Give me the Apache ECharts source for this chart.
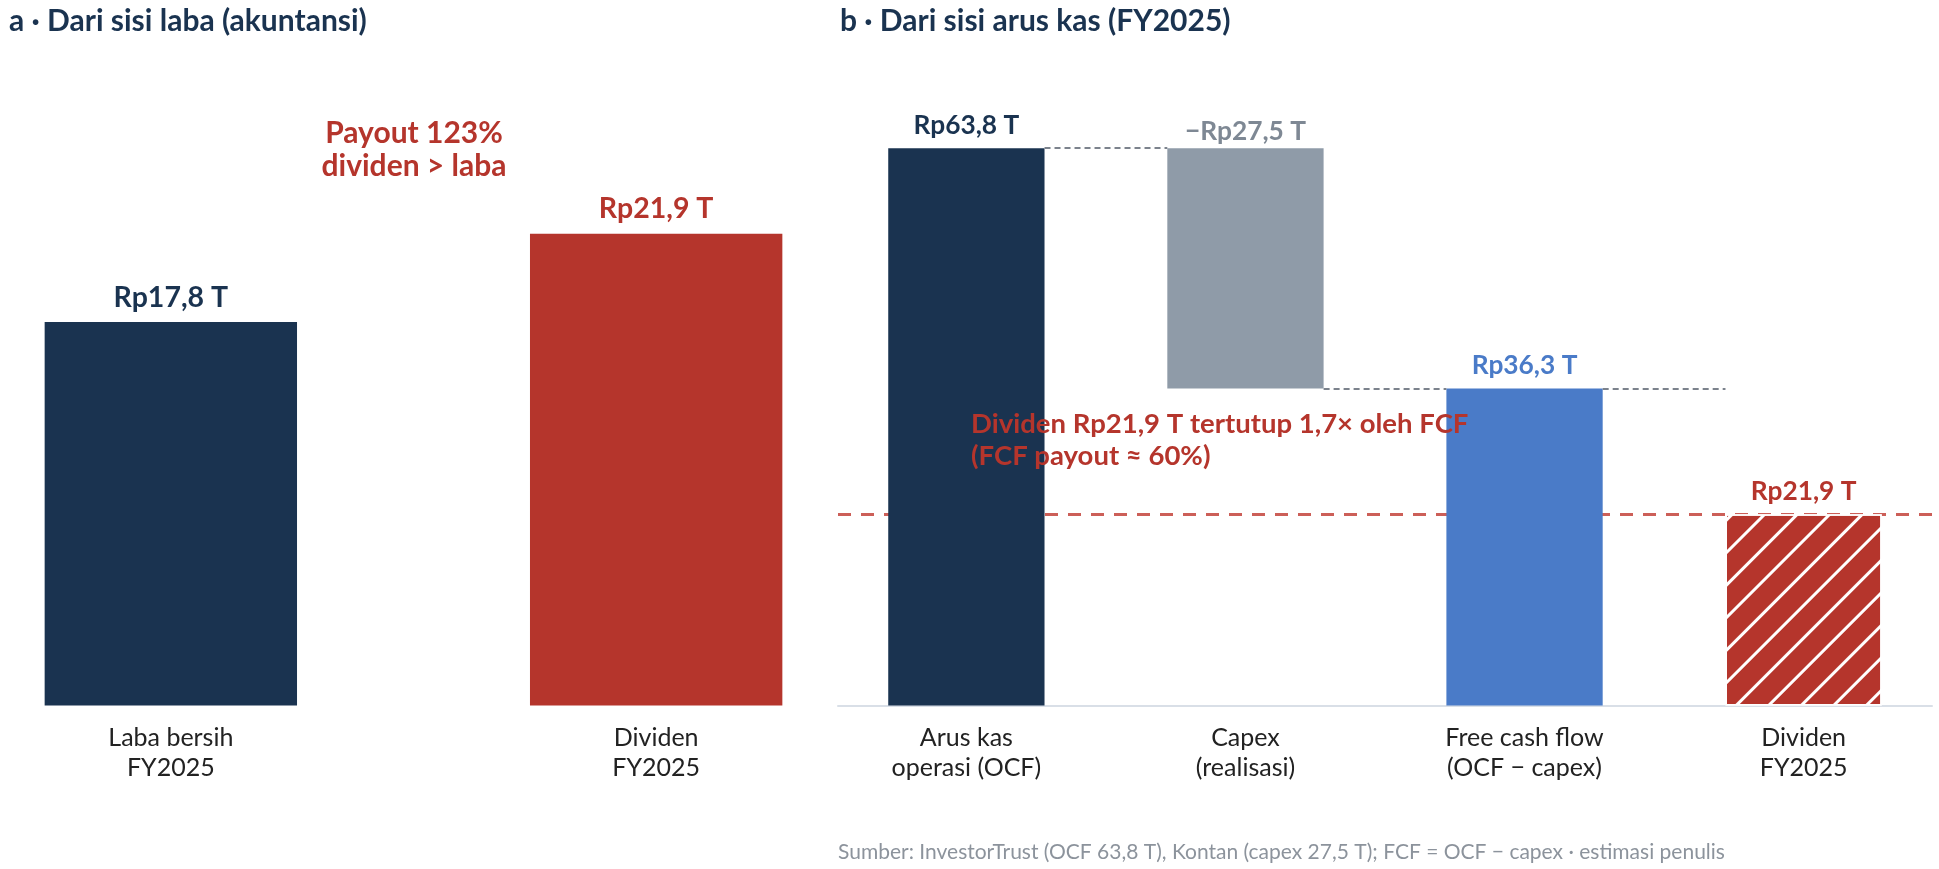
<!DOCTYPE html>
<html>
<head>
<meta charset="utf-8">
<script src="https://cdn.jsdelivr.net/npm/echarts@6/dist/echarts.min.js"></script>
<style>
  html, body { margin: 0; padding: 0; background: #fff; }
  #main { width: 1939px; height: 869px; }
</style>
</head>
<body>
<div id="main"></div>
<script>
// panel a: laba vs dividen
var kategoriA = ['Laba bersih\nFY2025', 'Dividen\nFY2025'];
var nilaiA = [17.8, 21.9];

// panel b: arus kas (OCF -> capex -> FCF -> dividen)
var kategoriB = ['Arus kas\noperasi (OCF)', 'Capex\n(realisasi)', 'Free cash flow\n(OCF − capex)', 'Dividen\nFY2025'];
var nilaiB = [63.8, 27.5, 36.3, 21.9];

var NAVY = '#1a3350', MERAH = '#b5352c', ABU = '#8f9ba8', BIRU = '#4a7bc8';
var FONT = 'Lato';

function rp(v) {
    return 'Rp' + v.toFixed(1).replace('.', ',') + ' T';
}

// ukuran grid (px) dan rentang sumbu x
var gridA = { left: 0, width: 827, top: 167, bottom: 163.5 };
var xA = { min: -0.352, max: 1.352 };
var gridB = { left: 838, width: 1094, top: 94, bottom: 163.5 };
var xB = { min: -0.46, max: 3.46 };
var LEBAR_A = 0.52, LEBAR_B = 0.56;
var barPxA = LEBAR_A * gridA.width / (xA.max - xA.min);
var barPxB = LEBAR_B * gridB.width / (xB.max - xB.min);
var hw = LEBAR_B / 2;

var ocf = nilaiB[0], capex = nilaiB[1], fcf = nilaiB[2], dividen = nilaiB[3];

var labelStyle = function (color, size) {
    return { show: true, position: 'top', color: color, fontFamily: FONT, fontWeight: 'bold', fontSize: size, distance: 10 };
};

var kategoriLabel = { color: '#222', fontSize: 25, lineHeight: 30, margin: 17.5, fontFamily: FONT };

var myChart = echarts.init(document.getElementById('main'), null, { renderer: 'canvas' });

myChart.setOption({
    animation: false,
    textStyle: { fontFamily: FONT },
    grid: [
        { left: gridA.left, width: gridA.width, top: gridA.top, bottom: gridA.bottom },
        { left: gridB.left, width: gridB.width, top: gridB.top, bottom: gridB.bottom }
    ],
    xAxis: [
        {
            gridIndex: 0, type: 'value', min: xA.min, max: xA.max,
            axisLine: { show: false }, axisTick: { show: false }, splitLine: { show: false },
            axisLabel: Object.assign({
                customValues: [0, 1],
                formatter: function (v) { return kategoriA[Math.round(v)]; }
            }, kategoriLabel)
        },
        {
            gridIndex: 1, type: 'value', min: xB.min, max: xB.max,
            axisLine: { show: true, onZero: true, lineStyle: { color: '#d9dfe7', width: 2 } },
            axisTick: { show: false }, splitLine: { show: false },
            axisLabel: Object.assign({
                customValues: [0, 1, 2, 3],
                formatter: function (v) { return kategoriB[Math.round(v)]; }
            }, kategoriLabel)
        }
    ],
    yAxis: [
        { gridIndex: 0, type: 'value', min: 0, max: 25, show: false },
        { gridIndex: 1, type: 'value', min: 0, max: 70, show: false }
    ],
    series: [
        {
            name: 'Panel a',
            type: 'bar',
            xAxisIndex: 0, yAxisIndex: 0,
            barWidth: barPxA,
            z: 2,
            data: [
                { value: [0, nilaiA[0]], itemStyle: { color: NAVY }, label: labelStyle(NAVY, 28.5) },
                { value: [1, nilaiA[1]], itemStyle: { color: MERAH }, label: labelStyle(MERAH, 28.5) }
            ],
            label: { formatter: function (p) { return rp(p.value[1]); } }
        },
        {
            // garis dividen (di belakang batang)
            name: 'Garis dividen',
            type: 'line',
            xAxisIndex: 1, yAxisIndex: 1,
            data: [],
            markLine: {
                z: 1,
                silent: true,
                symbol: 'none',
                label: { show: false },
                lineStyle: { color: '#cc5f58', type: [13, 10], width: 3 },
                data: [{ yAxis: dividen }]
            }
        },
        {
            name: 'Arus kas',
            type: 'bar',
            xAxisIndex: 1, yAxisIndex: 1,
            barWidth: barPxB,
            z: 2,
            data: [
                { value: [0, ocf], itemStyle: { color: NAVY }, label: labelStyle(NAVY, 26.3) },
                { value: [2, fcf], itemStyle: { color: BIRU }, label: labelStyle(BIRU, 26.3) },
                {
                    value: [3, dividen],
                    itemStyle: {
                        color: MERAH, borderColor: '#fff', borderWidth: 1.5,
                        decal: { symbol: 'rect', color: '#ffffff', dashArrayX: [1, 0], dashArrayY: [3, 20], rotation: -Math.PI / 4 }
                    },
                    label: labelStyle(MERAH, 26.3)
                }
            ],
            label: { formatter: function (p) { return rp(p.value[1]); } },
            markLine: {
                silent: true,
                symbol: 'none',
                label: { show: false },
                lineStyle: { color: '#7b828c', type: [6, 4], width: 2 },
                data: [
                    [{ coord: [0 + hw, ocf] }, { coord: [1 - hw, ocf] }],
                    [{ coord: [1 + hw, ocf - capex] }, { coord: [2 - hw, ocf - capex] }],
                    [{ coord: [2 + hw, fcf] }, { coord: [3 - hw, fcf] }]
                ]
            }
        },
        {
            // capex: batang melayang dari OCF turun ke FCF
            name: 'Capex',
            type: 'custom',
            xAxisIndex: 1, yAxisIndex: 1,
            z: 2,
            encode: { x: 0, y: [1, 2] },
            data: [[1, ocf - capex, ocf]],
            renderItem: function (params, api) {
                var x = api.value(0), lo = api.value(1), hi = api.value(2);
                var a = api.coord([x - hw, hi]);
                var b = api.coord([x + hw, lo]);
                return {
                    type: 'rect',
                    shape: { x: a[0], y: a[1], width: b[0] - a[0], height: b[1] - a[1] },
                    style: { fill: ABU },
                    textContent: {
                        style: {
                            text: '−' + rp(hi - lo),
                            fill: '#7e8894', fontFamily: FONT, fontWeight: 'bold', fontSize: 26.3
                        }
                    },
                    textConfig: { position: 'top', distance: 4 }
                };
            }
        }
    ],
    graphic: [
        {
            type: 'text', left: 9, top: 6, z: 100,
            style: { text: 'a · Dari sisi laba (akuntansi)', fill: NAVY, font: 'bold 30px Lato' }
        },
        {
            type: 'text', left: 840, top: 6, z: 100,
            style: { text: 'b · Dari sisi arus kas (FY2025)', fill: NAVY, font: 'bold 30px Lato' }
        },
        {
            type: 'text', x: 414, y: 150, z: 100,
            style: {
                text: 'Payout 123%\ndividen > laba', fill: MERAH, font: 'bold 30px Lato',
                lineHeight: 33, align: 'center', verticalAlign: 'middle'
            }
        },
        {
            type: 'text', x: 971, y: 440, z: 100,
            style: {
                text: 'Dividen Rp21,9 T tertutup 1,7× oleh FCF\n(FCF payout ≈ 60%)', fill: MERAH,
                font: 'bold 27.5px Lato', lineHeight: 32, align: 'left', verticalAlign: 'middle'
            }
        },
        {
            type: 'text', x: 838, y: 852, z: 100,
            style: {
                text: 'Sumber: InvestorTrust (OCF 63,8 T), Kontan (capex 27,5 T); FCF = OCF − capex · estimasi penulis',
                fill: '#8c939c', font: '21px Lato', verticalAlign: 'middle'
            }
        }
    ]
});
</script>
</body>
</html>
